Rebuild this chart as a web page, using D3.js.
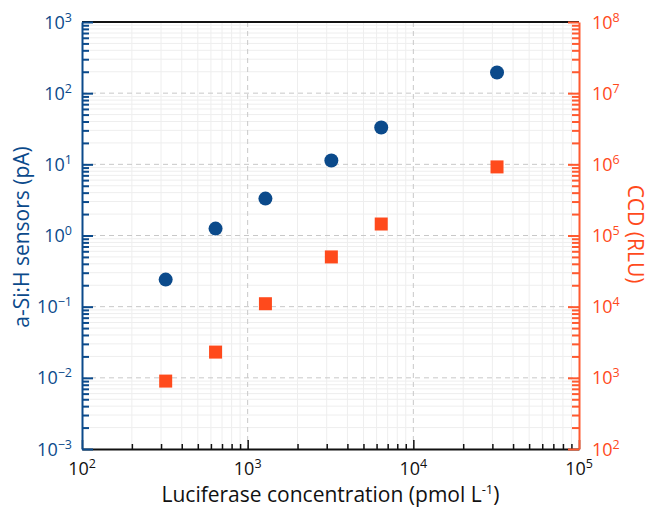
<!DOCTYPE html>
<html>
<head>
<meta charset="utf-8">
<script src="https://cdn.jsdelivr.net/npm/d3@7"></script>
<style>
	body { margin: 0; background: #fff; }
	svg { display: block; font-family: "Open Sans", "Noto Sans", sans-serif; }
</style>
</head>
<body>
<div id="chart"></div>
<script>
// concentration of luciferase (pmol/L)
const concentration = [320, 640, 1280, 3200, 6400, 32000];
// a-Si:H sensor photocurrent (pA), left axis
const sensorCurrent = [0.24, 1.25, 3.3, 11.3, 33, 195];
// CCD signal (RLU), right axis
const ccdSignal = [900, 2300, 11000, 50000, 145000, 920000];

const xDecades = [2, 3, 4, 5];
const leftDecades = [-3, -2, -1, 0, 1, 2, 3];
const rightDecades = [2, 3, 4, 5, 6, 7, 8];

const blue = "#0b4a8b";
const orange = "#ff4a1c";
const orangeAxis = "#ff5a30";

const W = 649, H = 509;
const margin = {top: 22, right: 70, bottom: 60, left: 82};
const width = W - margin.left - margin.right;
const height = H - margin.top - margin.bottom;

const x = d3.scaleLog().domain([1e2, 1e5]).range([0, width]);
const yL = d3.scaleLog().domain([1e-3, 1e3]).range([height, 0]);
const yR = d3.scaleLog().domain([1e2, 1e8]).range([height, 0]);

// minor tick values (2..9 x each decade)
function minors(decades) {
	const out = [];
	for (let i = 0; i < decades.length - 1; i++) {
		for (let m = 2; m <= 9; m++) out.push(m * Math.pow(10, decades[i]));
	}
	return out;
}
const pow = d => Math.pow(10, d);
const isMajor = d => Math.abs(Math.log10(d) - Math.round(Math.log10(d))) < 1e-9;

/* eslint-disable indent */
const svg = d3.select("#chart")
	.append("svg")
		.attr("width", W)
		.attr("height", H);
const g = svg.append("g")
		.attr("transform", `translate(${margin.left},${margin.top})`);

// minor grid
g.append("g").selectAll("line")
	.data(minors(xDecades))
	.join("line")
		.attr("x1", d => x(d)).attr("x2", d => x(d))
		.attr("y1", 0).attr("y2", height)
		.attr("stroke", "#eeeeee").attr("stroke-width", 1);
g.append("g").selectAll("line")
	.data(minors(leftDecades))
	.join("line")
		.attr("y1", d => yL(d)).attr("y2", d => yL(d))
		.attr("x1", 0).attr("x2", width)
		.attr("stroke", "#eeeeee").attr("stroke-width", 1);

// major grid (dashed)
g.append("g").selectAll("line")
	.data(xDecades.slice(1, -1).map(pow))
	.join("line")
		.attr("x1", d => x(d)).attr("x2", d => x(d))
		.attr("y1", 0).attr("y2", height)
		.attr("stroke", "#c8c8c8").attr("stroke-dasharray", "5,4");
g.append("g").selectAll("line")
	.data(leftDecades.slice(1, -1).map(pow))
	.join("line")
		.attr("y1", d => yL(d)).attr("y2", d => yL(d))
		.attr("x1", 0).attr("x2", width)
		.attr("stroke", "#c8c8c8").attr("stroke-dasharray", "5,4");

// top frame
g.append("line")
	.attr("x1", 0).attr("x2", width).attr("y1", 0).attr("y2", 0)
	.attr("stroke", "#111").attr("stroke-width", 2);

// superscript label helper
function powLabel(sel, d) {
	sel.text(null);
	sel.append("tspan").text("10");
	sel.append("tspan")
		.attr("dy", -7)
		.attr("font-size", 12.5)
		.text(d < 0 ? "\u2212" + (-d) : d);
}

// bottom axis
const gx = g.append("g")
		.attr("transform", `translate(0,${height})`)
		.call(d3.axisTop(x)
			.tickValues(xDecades.map(pow).concat(minors(xDecades)))
			.tickSize(0)
			.tickFormat(""));
gx.select(".domain").attr("stroke", "#111").attr("stroke-width", 2);
gx.selectAll(".tick line")
		.attr("y2", d => isMajor(d) ? -9 : -5)
		.attr("stroke", "#111").attr("stroke-width", 1.5);
g.append("g").selectAll("text")
	.data(xDecades)
	.join("text")
		.attr("x", d => x(pow(d)))
		.attr("y", height + 26)
		.attr("text-anchor", "middle")
		.attr("font-size", 18)
		.attr("fill", "#111")
		.each(function(d) { powLabel(d3.select(this), d); });

// left axis
const gl = g.append("g")
		.call(d3.axisRight(yL)
			.tickValues(leftDecades.map(pow).concat(minors(leftDecades)))
			.tickSize(0)
			.tickFormat(""));
gl.select(".domain").attr("stroke", blue).attr("stroke-width", 2);
gl.selectAll(".tick line")
		.attr("x2", d => isMajor(d) ? 11 : 7)
		.attr("stroke", blue).attr("stroke-width", 2);
g.append("g").selectAll("text")
	.data(leftDecades)
	.join("text")
		.attr("x", -10)
		.attr("y", d => yL(pow(d)) + 6.5)
		.attr("text-anchor", "end")
		.attr("font-size", 18)
		.attr("fill", blue)
		.each(function(d) { powLabel(d3.select(this), d); });

// right axis
const gr = g.append("g")
		.attr("transform", `translate(${width},0)`)
		.call(d3.axisLeft(yR)
			.tickValues(rightDecades.map(pow).concat(minors(rightDecades)))
			.tickSize(0)
			.tickFormat(""));
gr.select(".domain").attr("stroke", orangeAxis).attr("stroke-width", 2);
gr.selectAll(".tick line")
		.attr("x2", d => isMajor(d) ? -11 : -7)
		.attr("stroke", orangeAxis).attr("stroke-width", 2);
g.append("g").selectAll("text")
	.data(rightDecades)
	.join("text")
		.attr("x", width + 13)
		.attr("y", d => yR(pow(d)) + 6.5)
		.attr("text-anchor", "start")
		.attr("font-size", 18)
		.attr("fill", orange)
		.each(function(d) { powLabel(d3.select(this), d); });

// points: sensor (circles)
g.append("g").selectAll("circle")
	.data(concentration.map((c, i) => [c, sensorCurrent[i]]))
	.join("circle")
		.attr("cx", d => x(d[0]))
		.attr("cy", d => yL(d[1]))
		.attr("r", 7)
		.attr("fill", blue);

// points: CCD (squares)
g.append("g").selectAll("rect")
	.data(concentration.map((c, i) => [c, ccdSignal[i]]))
	.join("rect")
		.attr("x", d => x(d[0]) - 6.5)
		.attr("y", d => yR(d[1]) - 6.5)
		.attr("width", 13)
		.attr("height", 13)
		.attr("fill", orange);

// axis titles
const xt = svg.append("text")
		.attr("x", margin.left + width / 2)
		.attr("y", 502)
		.attr("text-anchor", "middle")
		.attr("font-size", 21)
		.attr("fill", "#111");
xt.append("tspan").text("Luciferase concentration (pmol L");
xt.append("tspan").attr("dy", -8).attr("font-size", 13).text("-1");
xt.append("tspan").attr("dy", 8).text(")");

svg.append("text")
		.attr("transform", "translate(29,237) rotate(-90)")
		.attr("text-anchor", "middle")
		.attr("font-size", 21)
		.attr("fill", blue)
		.text("a-Si:H sensors (pA)");

svg.append("text")
		.attr("transform", "translate(628,234) rotate(90)")
		.attr("text-anchor", "middle")
		.attr("font-size", 21)
		.attr("fill", orange)
		.text("CCD (RLU)");
/* eslint-enable */
</script>
</body>
</html>
